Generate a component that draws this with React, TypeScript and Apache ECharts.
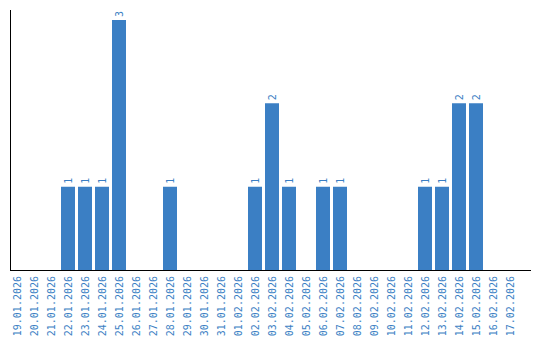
import React, { useEffect, useRef } from "react";
import * as echarts from "echarts";

const categories = [
  "19.01.2026", "20.01.2026", "21.01.2026", "22.01.2026", "23.01.2026",
  "24.01.2026", "25.01.2026", "26.01.2026", "27.01.2026", "28.01.2026",
  "29.01.2026", "30.01.2026", "31.01.2026", "01.02.2026", "02.02.2026",
  "03.02.2026", "04.02.2026", "05.02.2026", "06.02.2026", "07.02.2026",
  "08.02.2026", "09.02.2026", "10.02.2026", "11.02.2026", "12.02.2026",
  "13.02.2026", "14.02.2026", "15.02.2026", "16.02.2026", "17.02.2026",
];

const counts = [
  0, 0, 0, 1, 1, 1, 3, 0, 0, 1,
  0, 0, 0, 0, 1, 2, 1, 0, 1, 1,
  0, 0, 0, 0, 1, 1, 2, 2, 0, 0,
];

const BLUE = "#3b7fc4";
const FONT = "'DejaVu Sans Mono', monospace";

export default function App() {
  const ref = useRef<HTMLDivElement>(null);
  useEffect(() => {
    if (!ref.current) return;
    const chart = echarts.init(ref.current, null, { renderer: "svg" });
    chart.setOption({
      animation: false,
      backgroundColor: "#ffffff",
      grid: { left: 8.5, top: 10, width: 510, height: 260 },
      xAxis: {
        type: "category",
        data: categories,
        axisLine: { show: false },
        axisTick: { show: false },
        axisLabel: {
          rotate: 90,
          interval: 0,
          margin: 6,
          color: BLUE,
          fontFamily: FONT,
          fontSize: 10,
        },
      },
      yAxis: {
        type: "value",
        min: 0,
        max: 3.12,
        axisLine: { show: false },
        axisTick: { show: false },
        axisLabel: { show: false },
        splitLine: { show: false },
      },
      series: [
        {
          type: "bar",
          data: counts,
          barWidth: 14,
          itemStyle: { color: BLUE },
          label: {
            show: true,
            position: "top",
            rotate: 90,
            align: "left",
            verticalAlign: "middle",
            distance: 3,
            color: BLUE,
            fontFamily: FONT,
            fontSize: 10,
            formatter: (p: any) => (p.value ? String(p.value) : ""),
          },
        },
      ],
      graphic: [
        {
          type: "line",
          shape: { x1: 10.5, y1: 10, x2: 10.5, y2: 271 },
          style: { stroke: "#000", lineWidth: 1 },
          z: 10,
        },
        {
          type: "line",
          shape: { x1: 10, y1: 270.5, x2: 531, y2: 270.5 },
          style: { stroke: "#000", lineWidth: 1 },
          z: 10,
        },
      ],
    });
    return () => chart.dispose();
  }, []);
  return (
    <div
      ref={ref}
      style={{ position: "absolute", left: 0, top: 0, width: 540, height: 340 }}
    />
  );
}
